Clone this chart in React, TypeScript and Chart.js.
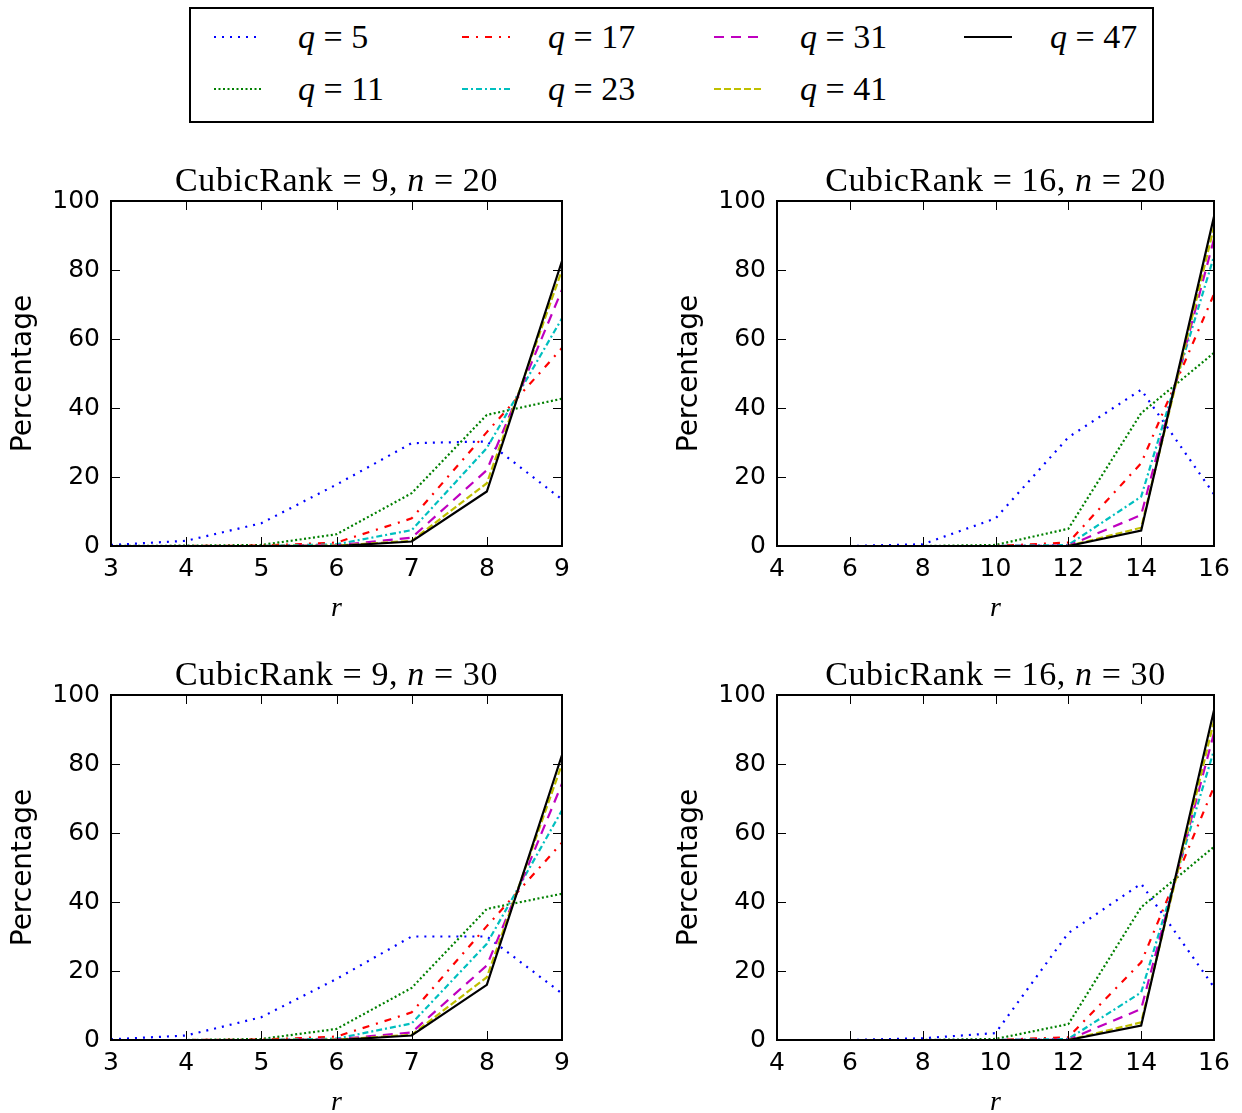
import React, { useEffect, useRef } from "react";
import { Chart, registerables } from "chart.js";

Chart.register(...registerables);

// ---------- data ----------
const Q_VALUES = ["5", "11", "17", "23", "31", "41", "47"];
const COLORS = ["#0000ff", "#008000", "#ff0000", "#00bfbf", "#bf00bf", "#bfbf00", "#000000"];
const DASHES: number[][] = [[2, 6], [2, 2.5], [7, 7, 2, 7], [6, 3, 2, 3], [10, 7], [7, 3], []];

const R_RANK9 = [3, 4, 5, 6, 7, 8, 9];
const R_RANK16 = [4, 6, 8, 10, 12, 14, 16];
const Y_TICKS = [0, 20, 40, 60, 80, 100];

// CubicRank = 9, n = 20
const TL_Q5 = [0.3, 1.5, 6.6, 17.8, 29.8, 30.3, 13.5];
const TL_Q11 = [0, 0.1, 0.3, 3.4, 15.3, 38, 42.7];
const TL_Q17 = [0, 0, 0.1, 1.0, 8.0, 33, 57.4];
const TL_Q23 = [0, 0, 0, 0.5, 4.6, 28.4, 66];
const TL_Q31 = [0, 0, 0, 0.2, 2.4, 22, 74.3];
const TL_Q41 = [0, 0, 0, 0.1, 1.5, 18.2, 80];
const TL_Q47 = [0, 0, 0, 0, 1.3, 15.8, 82.6];

// CubicRank = 16, n = 20
const TR_Q5 = [0, 0, 0.5, 8, 31.5, 45.3, 15];
const TR_Q11 = [0, 0, 0, 0.3, 5, 38.5, 56];
const TR_Q17 = [0, 0, 0, 0, 1, 24, 73];
const TR_Q23 = [0, 0, 0, 0, 0.3, 14.3, 84];
const TR_Q31 = [0, 0, 0, 0, 0.1, 9, 89];
const TR_Q41 = [0, 0, 0, 0, 0, 5.3, 92.5];
const TR_Q47 = [0, 0, 0, 0, 0, 4.5, 95.5];

// CubicRank = 9, n = 30
const BL_Q5 = [0.2, 1.3, 6.6, 17.7, 30, 30, 13.5];
const BL_Q11 = [0, 0, 0.3, 3.2, 15.1, 38, 42.4];
const BL_Q17 = [0, 0, 0.1, 1.0, 8.0, 33, 57.2];
const BL_Q23 = [0, 0, 0, 0.4, 4.8, 27.9, 66.6];
const BL_Q31 = [0, 0, 0, 0.2, 2.2, 21.6, 74.3];
const BL_Q41 = [0, 0, 0, 0.1, 1.5, 18.2, 80];
const BL_Q47 = [0, 0, 0, 0, 1.3, 16, 82.6];

// CubicRank = 16, n = 30
const BR_Q5 = [0, 0, 0.5, 2, 31, 45.3, 15.3];
const BR_Q11 = [0, 0, 0, 0.3, 4.6, 38.5, 56];
const BR_Q17 = [0, 0, 0, 0, 0.8, 22.5, 73.4];
const BR_Q23 = [0, 0, 0, 0, 0.3, 13.8, 84];
const BR_Q31 = [0, 0, 0, 0, 0.1, 9, 89];
const BR_Q41 = [0, 0, 0, 0, 0, 5.1, 92.5];
const BR_Q47 = [0, 0, 0, 0, 0, 4.2, 95.6];

type Panel = {
  rank: string;
  n: string;
  r: number[];
  step: number;
  series: number[][];
  left: number;
  plotTop: number;
  width: number;
  plotW: number;
};

const PANELS: Panel[] = [
  { rank: "9", n: "20", r: R_RANK9, step: 1, series: [TL_Q5, TL_Q11, TL_Q17, TL_Q23, TL_Q31, TL_Q41, TL_Q47], left: 0, plotTop: 201, width: 600, plotW: 451 },
  { rank: "16", n: "20", r: R_RANK16, step: 2, series: [TR_Q5, TR_Q11, TR_Q17, TR_Q23, TR_Q31, TR_Q41, TR_Q47], left: 666, plotTop: 201, width: 576, plotW: 437 },
  { rank: "9", n: "30", r: R_RANK9, step: 1, series: [BL_Q5, BL_Q11, BL_Q17, BL_Q23, BL_Q31, BL_Q41, BL_Q47], left: 0, plotTop: 695, width: 600, plotW: 451 },
  { rank: "16", n: "30", r: R_RANK16, step: 2, series: [BR_Q5, BR_Q11, BR_Q17, BR_Q23, BR_Q31, BR_Q41, BR_Q47], left: 666, plotTop: 695, width: 576, plotW: 437 },
];

const PAD_TOP = 30;
const PLOT_H = 345;
const X_AXIS_H = 82;
const Y_AXIS_W = 111;
const CANVAS_H = PAD_TOP + PLOT_H + X_AXIS_H;
const TICK_FONT = 25;
const Y_TICK_PAD = 11;

const SANS = "'DejaVu Sans', sans-serif";
const SERIF = "'Liberation Serif', 'DejaVu Serif', serif";

const frameTicks = {
  id: "frameTicks",
  afterDatasetsDraw(chart: any) {
    const { ctx, chartArea } = chart;
    const { left, right, top, bottom } = chartArea;
    const xs = chart.scales.x;
    const ys = chart.scales.y;
    ctx.save();
    ctx.strokeStyle = "#000";
    ctx.lineWidth = 1;
    ctx.setLineDash([]);
    const L = 9;
    ctx.beginPath();
    xs.ticks.forEach((t: any) => {
      const px = Math.round(xs.getPixelForValue(t.value)) + 0.5;
      ctx.moveTo(px, bottom);
      ctx.lineTo(px, bottom - L);
      ctx.moveTo(px, top);
      ctx.lineTo(px, top + L);
    });
    ys.ticks.forEach((t: any) => {
      const py = Math.round(ys.getPixelForValue(t.value)) + 0.5;
      ctx.moveTo(left, py);
      ctx.lineTo(left + L, py);
      ctx.moveTo(right, py);
      ctx.lineTo(right - L, py);
    });
    ctx.stroke();
    ctx.lineWidth = 2;
    ctx.strokeRect(left, top, right - left, bottom - top);
    ctx.restore();
  },
};

function makeConfig(p: Panel): any {
  const datasets = p.series.map((vals, i) => ({
    label: "q = " + Q_VALUES[i],
    data: p.r.map((x, j) => ({ x, y: vals[j] })),
    borderColor: COLORS[i],
    backgroundColor: COLORS[i],
    borderWidth: 2.2,
    borderDash: DASHES[i],
    pointRadius: 0,
    fill: false,
    tension: 0,
    order: p.series.length - i,
  }));
  return {
    type: "line",
    data: { datasets },
    plugins: [frameTicks],
    options: {
      animation: false,
      responsive: false,
      devicePixelRatio: 1,
      layout: { padding: { top: PAD_TOP, left: 0, right: p.width - Y_AXIS_W - p.plotW, bottom: 0 } },
      plugins: { legend: { display: false }, tooltip: { enabled: false }, title: { display: false } },
      scales: {
        x: {
          type: "linear",
          min: p.r[0],
          max: p.r[p.r.length - 1],
          grid: { display: false, drawTicks: false },
          border: { display: false },
          ticks: {
            stepSize: p.step,
            color: "#000",
            font: { family: SANS, size: TICK_FONT },
            padding: 8,
            maxRotation: 0,
            autoSkip: false,
          },
          title: {
            display: true,
            text: "r",
            color: "#000",
            font: { family: SERIF, size: 28, style: "italic" },
            padding: { top: 0, bottom: 3 },
          },
          afterFit(scale: any) {
            scale.height = X_AXIS_H;
          },
        },
        y: {
          type: "linear",
          min: 0,
          max: 100,
          grid: { display: false, drawTicks: false },
          border: { display: false },
          afterBuildTicks(scale: any) {
            scale.ticks = Y_TICKS.map((v) => ({ value: v }));
          },
          ticks: {
            color: "#000",
            font: { family: SANS, size: TICK_FONT },
            padding: Y_TICK_PAD,
          },
          title: {
            display: true,
            text: "Percentage",
            color: "#000",
            font: { family: SANS, size: 28 },
            padding: { top: 7, bottom: 0 },
          },
          afterFit(scale: any) {
            scale.width = Y_AXIS_W;
          },
        },
      },
    },
  };
}

function Sample({ color, dash }: { color: string; dash: number[] }) {
  return (
    <svg width={48} height={10} style={{ display: "block" }}>
      <line x1={0} y1={5} x2={48} y2={5} stroke={color} strokeWidth={2} strokeDasharray={dash.length ? dash.join(",") : undefined} />
    </svg>
  );
}

const LEGEND_POS = [
  { col: 0, row: 0 },
  { col: 0, row: 1 },
  { col: 1, row: 0 },
  { col: 1, row: 1 },
  { col: 2, row: 0 },
  { col: 2, row: 1 },
  { col: 3, row: 0 },
];
const COL_LINE_X = [23, 271, 523, 773];
const COL_TEXT_X = [107, 357, 609, 859];
const ROW_Y = [28, 80];

export default function App() {
  const refs = useRef<(HTMLCanvasElement | null)[]>([]);
  useEffect(() => {
    const charts = PANELS.map((p, i) => new Chart(refs.current[i] as HTMLCanvasElement, makeConfig(p)));
    return () => charts.forEach((c) => c.destroy());
  }, []);

  return (
    <div style={{ position: "absolute", left: 0, top: 0, width: 1242, height: 1113, background: "#fff", overflow: "hidden" }}>
      {PANELS.map((p, i) => (
        <canvas
          key={"c" + i}
          ref={(el) => {
            refs.current[i] = el;
          }}
          width={p.width}
          height={CANVAS_H}
          style={{ position: "absolute", left: p.left, top: p.plotTop - PAD_TOP, width: p.width, height: CANVAS_H }}
        />
      ))}
      {PANELS.map((p, i) => {
        const cx = p.left + Y_AXIS_W + p.plotW / 2;
        const cy = p.plotTop - 21;
        return (
          <div
            key={"t" + i}
            style={{
              position: "absolute",
              left: cx - 300,
              width: 600,
              top: cy - 20,
              height: 40,
              lineHeight: "40px",
              textAlign: "center",
              fontFamily: SERIF,
              fontSize: 34,
              letterSpacing: 0.6,
              color: "#000",
              whiteSpace: "nowrap",
            }}
          >
            CubicRank = {p.rank}, <i>n</i> = {p.n}
          </div>
        );
      })}
      <div
        style={{
          position: "absolute",
          left: 189,
          top: 7,
          width: 961,
          height: 112,
          border: "2px solid #000",
          background: "#fff",
        }}
      >
        {LEGEND_POS.map((pos, i) => (
          <React.Fragment key={"l" + i}>
            <div style={{ position: "absolute", left: COL_LINE_X[pos.col], top: ROW_Y[pos.row] - 5 }}>
              <Sample color={COLORS[i]} dash={DASHES[i]} />
            </div>
            <div
              style={{
                position: "absolute",
                left: COL_TEXT_X[pos.col],
                top: ROW_Y[pos.row] - 20,
                height: 40,
                lineHeight: "40px",
                fontFamily: SERIF,
                fontSize: 34,
                color: "#000",
                whiteSpace: "nowrap",
              }}
            >
              <i>q</i> = {Q_VALUES[i]}
            </div>
          </React.Fragment>
        ))}
      </div>
    </div>
  );
}
